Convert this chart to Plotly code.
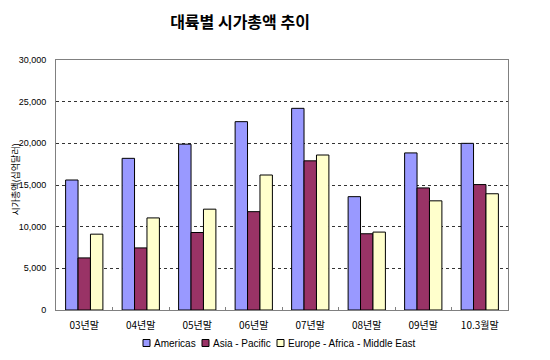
import plotly.graph_objects as go

categories = ["03년말", "04년말", "05년말", "06년말", "07년말", "08년말", "09년말", "10.3월말"]
americas = [15600, 18200, 19900, 22600, 24200, 13600, 18850, 20000]
asia_pacific = [6250, 7450, 9300, 11800, 17900, 9150, 14650, 15050]
europe_africa_me = [9100, 11050, 12100, 16200, 18600, 9350, 13100, 13950]
series_names = ["Americas", "Asia - Pacific", "Europe - Africa - Middle East"]
colors = ["#9999FF", "#993366", "#FFFFCC"]
y_ticks = [0, 5000, 10000, 15000, 20000, 25000, 30000]

kr_font = "Noto Sans CJK KR, sans-serif"
lat_font = "Liberation Sans, Arial, sans-serif"

W, H = 550, 360
ML, MR, MT, MB = 48, 50, 52, 58
PW, PH = W - ML - MR, H - MT - MB


def px_x(x):
    return (x - ML) / PW


def px_y(y):
    return (H - MB - y) / PH


fig = go.Figure()
for name, vals, col in zip(series_names, [americas, asia_pacific, europe_africa_me], colors):
    fig.add_trace(go.Bar(
        x=categories, y=vals, name=name, showlegend=False,
        marker=dict(color=col, line=dict(color="#000000", width=1)),
    ))

# Compact legend at the bottom: swatches + labels
legend_x = [135, 194, 269]
legend_y = 335
for lx, name, col in zip(legend_x, series_names, colors):
    fig.add_shape(type="rect", xref="paper", yref="paper",
                  x0=px_x(lx), x1=px_x(lx + 7),
                  y0=px_y(legend_y + 3.5), y1=px_y(legend_y - 3.5),
                  fillcolor=col, line=dict(color="#000000", width=1))
    fig.add_annotation(text=name, xref="paper", yref="paper", showarrow=False,
                       x=px_x(lx + 9), y=px_y(legend_y),
                       xanchor="left", yanchor="middle",
                       font=dict(family=lat_font, size=10, color="#000000"))

# Y axis title
fig.add_annotation(text="시가총액(십억달러)", xref="paper", yref="paper", showarrow=False,
                   x=px_x(6.6), y=px_y(172), textangle=-90,
                   xanchor="center", yanchor="middle",
                   font=dict(family=kr_font, size=9, color="#000000"))

fig.update_layout(
    width=W, height=H,
    margin=dict(l=ML, r=MR, t=MT, b=MB),
    paper_bgcolor="white", plot_bgcolor="white",
    barmode="group", bargap=0.34, bargroupgap=0,
    font=dict(family=lat_font, size=10, color="#000000"),
    title=dict(text="<b>대륙별 시가총액 추이</b>", xref="container", x=232 / W, xanchor="center",
               yref="container", y=1 - 14 / H, yanchor="middle",
               font=dict(family=kr_font, size=16, color="#000000")),
    showlegend=False,
)
fig.update_xaxes(
    automargin=False,
    showline=True, linecolor="#808080", linewidth=1, mirror=True,
    ticks="inside", tickson="boundaries", ticklen=3, tickcolor="#808080",
    ticklabelstandoff=6,
    tickfont=dict(family=kr_font, size=10, color="#000000"), showgrid=False,
)
fig.update_yaxes(
    automargin=False,
    range=[0, 30000], tickvals=y_ticks, tickformat=",d",
    showline=True, linecolor="#808080", linewidth=1, mirror=True,
    ticks="", ticklabelstandoff=7,
    showgrid=True, gridcolor="#333333", griddash="3px,3px", gridwidth=1,
    tickfont=dict(family=lat_font, size=9, color="#000000"),
)

fig.write_html("out.html")
